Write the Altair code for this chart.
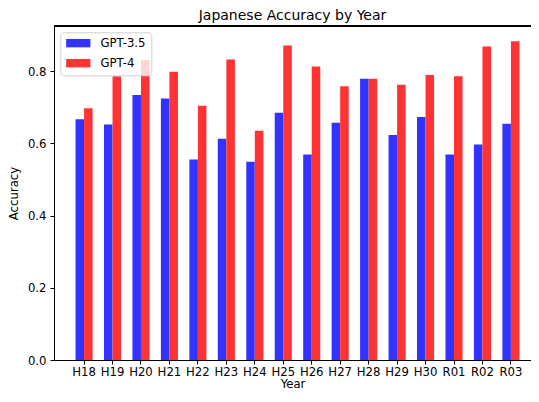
import altair as alt
import pandas as pd

years = ["H18", "H19", "H20", "H21", "H22", "H23", "H24", "H25",
         "H26", "H27", "H28", "H29", "H30", "R01", "R02", "R03"]
gpt35 = [0.667, 0.652, 0.734, 0.724, 0.555, 0.613, 0.549, 0.685,
         0.569, 0.657, 0.779, 0.623, 0.673, 0.569, 0.597, 0.654]
gpt4 = [0.697, 0.786, 0.831, 0.798, 0.704, 0.832, 0.635, 0.871,
        0.813, 0.758, 0.779, 0.762, 0.789, 0.786, 0.868, 0.883]
series = ["GPT-3.5", "GPT-4"]
colors = ["#3333ff", "#ff3333"]
yticks = [0.0, 0.2, 0.4, 0.6, 0.8]

rows = []
for i, y in enumerate(years):
    rows.append({"Year": y, "Model": series[0], "Accuracy": gpt35[i]})
    rows.append({"Year": y, "Model": series[1], "Accuracy": gpt4[i]})
df = pd.DataFrame(rows)

FONT = "DejaVu Sans"

bars = alt.Chart(df).mark_bar(strokeWidth=0).encode(
    x=alt.X("Year:N", sort=years,
            scale=alt.Scale(paddingInner=0.4, paddingOuter=0.581, align=0.651),
            axis=alt.Axis(title="Year", labelAngle=0, tickSize=4,
                          labelPadding=2, titlePadding=1)),
    xOffset=alt.XOffset("Model:N", sort=series,
                        scale=alt.Scale(paddingInner=0, paddingOuter=0)),
    y=alt.Y("Accuracy:Q",
            scale=alt.Scale(domain=[0, 0.925], nice=False, zero=True),
            axis=alt.Axis(title="Accuracy", values=yticks, format=".1f",
                          tickSize=4, labelPadding=4, titlePadding=8, grid=False)),
    color=alt.Color("Model:N", sort=series,
                    scale=alt.Scale(domain=series, range=colors),
                    legend=alt.Legend(
                        title=None, orient="none", legendX=6.3, legendY=6.3,
                        symbolType="M-1,-0.84 L3.86,-0.84 L3.86,0.84 L-1,0.84 Z",
                        symbolSize=100, symbolStrokeWidth=0, symbolOpacity=1,
                        labelOffset=23.5, rowPadding=7, padding=5,
                        strokeColor="#d0d0d0", cornerRadius=3,
                        fillColor="rgba(255,255,255,0.8)", labelFontSize=11.7,
                        labelFont=FONT, labelColor="black")),
)

top_spine = alt.Chart(df).mark_rule(color="black", strokeWidth=1).encode(
    y=alt.value(0)
)

chart = alt.layer(bars, top_spine).properties(
    width=477, height=334,
    title=alt.TitleParams("Japanese Accuracy by Year", fontSize=14,
                          fontWeight="normal", font=FONT, color="black", offset=3),
    autosize=alt.AutoSizeParams(type="none"),
    padding={"left": 46, "top": 18, "right": 0, "bottom": 32},
).configure_view(
    stroke=None
).configure_axis(
    domainColor="black", tickColor="black", labelColor="black", titleColor="black",
    labelFont=FONT, titleFont=FONT, labelFontSize=11.7, titleFontSize=11.7,
    titleFontWeight="normal", domainWidth=1, tickWidth=1
)

chart.save("out.html", embed_options={"renderer": "svg", "actions": False})
